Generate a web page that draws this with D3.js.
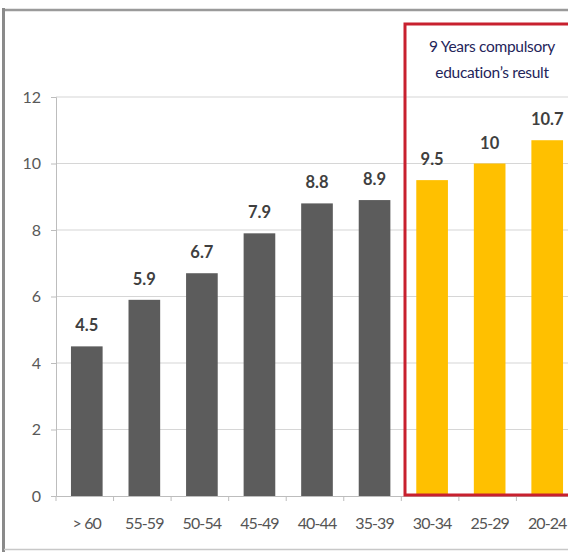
<!DOCTYPE html>
<html>
<head>
<meta charset="utf-8">
<script src="https://cdn.jsdelivr.net/npm/d3@7"></script>
<style>
  html, body { margin: 0; padding: 0; background: #fff; overflow: hidden; }
  svg { display: block; }
</style>
</head>
<body>
<svg id="chart" width="568" height="552"></svg>
<script>
// Average years of schooling by age group
const ageGroups = ["> 60", "55-59", "50-54", "45-49", "40-44", "35-39", "30-34", "25-29", "20-24"];
const years = [4.5, 5.9, 6.7, 7.9, 8.8, 8.9, 9.5, 10, 10.7];
const highlighted = ["30-34", "25-29", "20-24"];
const yTicks = [0, 2, 4, 6, 8, 10, 12];
const noteLines = ["9 Years compulsory", "education\u2019s result"];

const svg = d3.select("#chart");
const font = "Lato, 'Open Sans', sans-serif";

// outer frame
svg.append("line").attr("x1", 4).attr("x2", 568).attr("y1", 10).attr("y2", 10)
  .attr("stroke", "#9a9a9a").attr("stroke-width", 2.5);
svg.append("line").attr("x1", 3.5).attr("x2", 3.5).attr("y1", 8).attr("y2", 552)
  .attr("stroke", "#8a8a8a").attr("stroke-width", 3);
svg.append("line").attr("x1", 4).attr("x2", 568).attr("y1", 549.5).attr("y2", 549.5)
  .attr("stroke", "#c8c8c8").attr("stroke-width", 1.5);

const x = d3.scaleBand().domain(ageGroups).range([56, 578]).paddingInner(0.45).paddingOuter(0.26);
const y = d3.scaleLinear().domain([0, 12]).range([496, 97]);

// gridlines
svg.append("g").selectAll("line").data(yTicks.filter(d => d > 0)).join("line")
  .attr("x1", 56).attr("x2", 568)
  .attr("y1", d => y(d)).attr("y2", d => y(d))
  .attr("stroke", "#d6d6d6").attr("stroke-width", 1.2);

// y axis
const yAxis = svg.append("g").attr("transform", "translate(56,0)")
  .call(d3.axisLeft(y).tickValues(yTicks).tickSize(5).tickPadding(10));
yAxis.select(".domain").attr("stroke", "#bdbdbd");
yAxis.selectAll(".tick line").attr("stroke", "#bdbdbd");
yAxis.selectAll("text").attr("fill", "#595959").style("font", `16px ${font}`);

// x axis
const xAxis = svg.append("g").attr("transform", "translate(0,496)")
  .call(d3.axisBottom(x).tickSize(0).tickPadding(22));
xAxis.select(".domain").attr("stroke", "#bdbdbd");
xAxis.selectAll("text").attr("fill", "#555555").style("font", `16px ${font}`)
  .style("letter-spacing", "-0.9px");
// category separator ticks
svg.append("g").selectAll("line")
  .data(ageGroups.map((d, i) => x.range()[0] + i * x.step()))
  .join("line")
  .attr("x1", d => d).attr("x2", d => d).attr("y1", 496).attr("y2", 501)
  .attr("stroke", "#bdbdbd");

// bars
svg.append("g").selectAll("rect").data(ageGroups).join("rect")
  .attr("x", d => x(d))
  .attr("width", x.bandwidth())
  .attr("y", (d, i) => y(years[i]))
  .attr("height", (d, i) => y(0) - y(years[i]))
  .attr("fill", d => highlighted.includes(d) ? "#ffc000" : "#5c5c5c");

// value labels
svg.append("g").selectAll("text").data(ageGroups).join("text")
  .attr("x", d => x(d) + x.bandwidth() / 2)
  .attr("y", (d, i) => y(years[i]) - 15)
  .attr("text-anchor", "middle")
  .attr("fill", "#3f3f3f")
  .style("font", `bold 16.5px ${font}`)
  .text((d, i) => years[i]);

// highlight box around the compulsory-education cohorts
svg.append("rect")
  .attr("x", 405).attr("y", 24).attr("width", 200).attr("height", 471)
  .attr("fill", "none").attr("stroke", "#c8202e").attr("stroke-width", 3);

svg.append("g").selectAll("text").data(noteLines).join("text")
  .attr("x", 492).attr("y", (d, i) => 52 + i * 26)
  .attr("text-anchor", "middle")
  .attr("fill", "#24245a")
  .style("font", `15.5px ${font}`)
  .style("letter-spacing", "-0.3px")
  .text(d => d);
</script>
</body>
</html>
